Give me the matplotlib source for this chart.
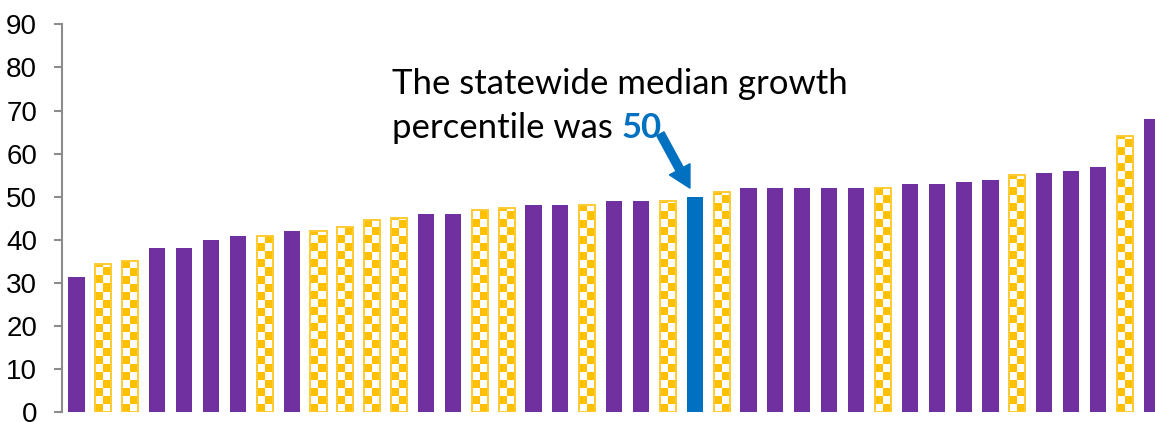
"""Growth percentile bar chart with checkered highlight bars."""

import matplotlib
matplotlib.use("Agg")
import matplotlib.pyplot as plt
import numpy as np

# median growth percentile per group, sorted ascending
values = [31.5, 34.5, 35, 38, 38, 40, 41, 41, 42, 42, 43, 44.5, 45, 46, 46,
          47, 47.5, 48, 48, 48, 49, 49, 49, 50, 51, 52, 52, 52, 52, 52, 52,
          53, 53, 53.5, 54, 55, 55.5, 56, 57, 64, 68]
# bar style: P = solid purple, Y = checkered yellow, S = statewide
kinds = list("PYYPPPPYPYYYYPPYYPPYPPYSYPPPPPYPPPPYPPPYP")

yticks = list(range(0, 91, 10))
note_line1 = "The statewide median growth"
note_line2 = "percentile was"
note_value = "50"

PURPLE = "#7030A0"
YELLOW = "#FFC000"
BLUE = "#0070C0"
AXIS_GRAY = "#8C8C8C"

W, H = 11.55, 4.22
fig = plt.figure(figsize=(W, H), dpi=100)
ax = fig.add_axes([62 / 1155, (422 - 412.3) / 422, 1 - 62 / 1155, (412.3 - 24.3) / 422])

x = np.arange(len(values))
bar_w = 0.6
cell_h = 1.86  # checker cell height in data units

solid_colors = {"P": PURPLE, "S": BLUE, "Y": "white"}
bars = ax.bar(x, values, width=bar_w,
              color=[solid_colors[k] for k in kinds], linewidth=0, zorder=2)

# checkered fill for the yellow bars
for bar, k in zip(bars, kinds):
    if k != "Y":
        continue
    x0 = bar.get_x()
    h = bar.get_height()
    nrows = int(np.ceil(h / cell_h))
    checker = (np.indices((nrows, 2)).sum(axis=0) % 2)[::-1]
    img = ax.imshow(checker, cmap=matplotlib.colors.ListedColormap([YELLOW, "white"]),
                    extent=(x0, x0 + bar.get_width(), 0, nrows * cell_h),
                    aspect="auto", interpolation="nearest", origin="lower", zorder=3)
    img.set_clip_path(bar)
    ax.bar(bar.get_x() + bar.get_width() / 2, h, width=bar.get_width(),
           facecolor="none", edgecolor="#FFCB33", linewidth=1.4, zorder=4)

ax.set_xlim(-0.54, 40.12)
ax.set_ylim(0, 90)
ax.set_yticks(yticks)
ax.set_xticks([])
for side in ["top", "right", "bottom"]:
    ax.spines[side].set_visible(False)
ax.spines["left"].set_color(AXIS_GRAY)
ax.spines["left"].set_linewidth(1.5)
ax.tick_params(axis="y", length=6, width=1.5, color=AXIS_GRAY, pad=12,
               labelsize=20)
for lbl in ax.get_yticklabels():
    lbl.set_fontfamily("Liberation Sans")

# annotation
note_font = "Lato"
ax.text(11.74, 73.8, note_line1, fontsize=25, family=note_font,
        ha="left", va="baseline", color="black")
ax.text(11.74, 63.6, note_line2, fontsize=25, family=note_font,
        ha="left", va="baseline", color="black")
ax.text(20.29, 63.6, note_value, fontsize=25, family=note_font, weight="bold",
        ha="left", va="baseline", color=BLUE)
ax.annotate("", xy=(22.82, 52.0), xytext=(21.72, 64.6),
            arrowprops=dict(arrowstyle="simple,head_length=1.1,head_width=1.2,tail_width=0.42",
                            mutation_scale=14, color=BLUE, shrinkA=0, shrinkB=0))

fig.savefig("out.png", dpi=100)
plt.close(fig)
